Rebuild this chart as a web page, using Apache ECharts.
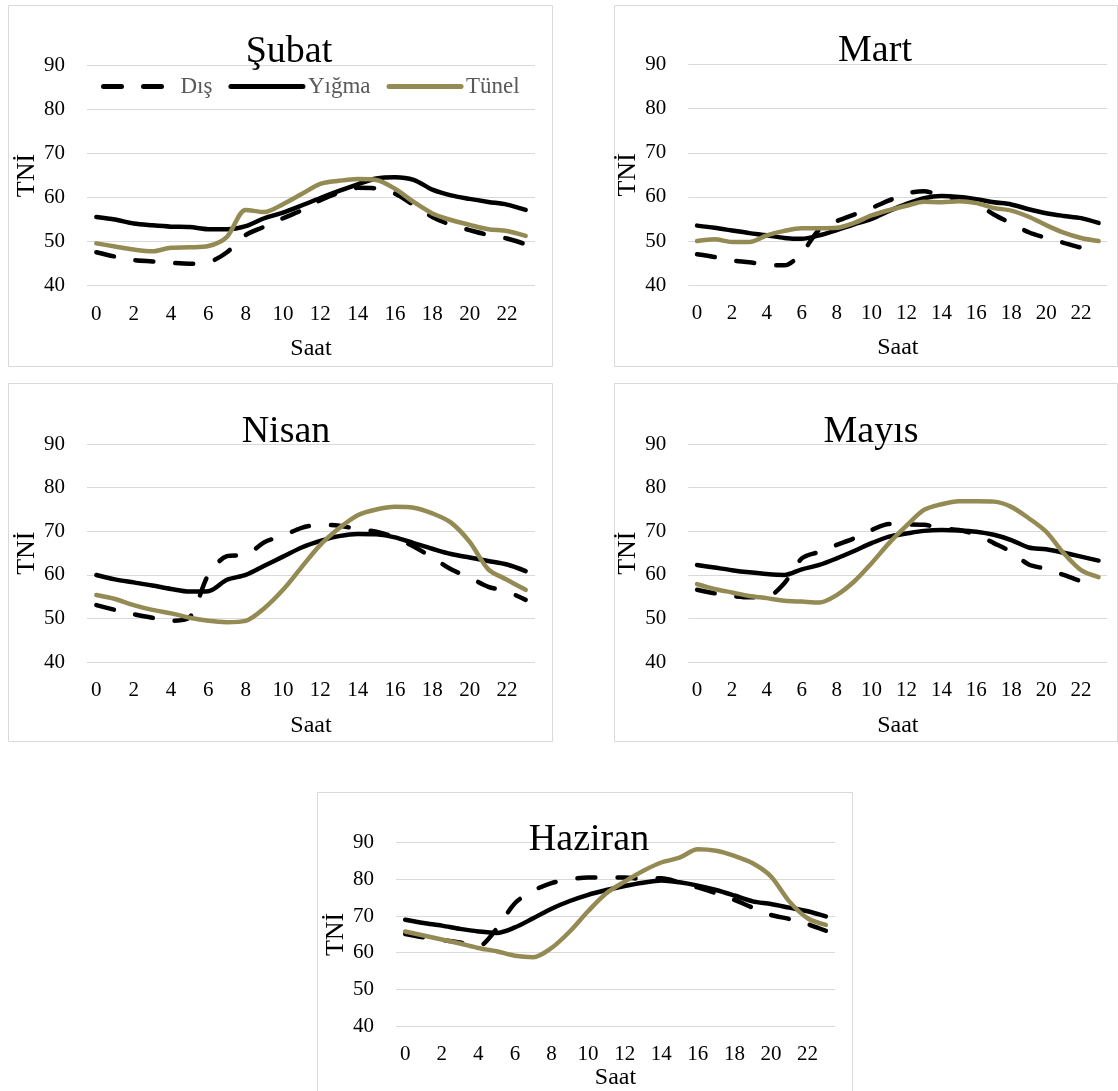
<!DOCTYPE html>
<html><head><meta charset="utf-8">
<script src="https://cdn.jsdelivr.net/npm/echarts@6/dist/echarts.min.js"></script>
<style>html,body{margin:0;padding:0;background:#fff}#c{width:1118px;height:1091px}</style>
</head><body><div id="c"></div>
<script>
// ---- data ----
const hours = ['0','1','2','3','4','5','6','7','8','9','10','11','12','13','14','15','16','17','18','19','20','21','22','23'];
const monthNames = ['Şubat', 'Mart', 'Nisan', 'Mayıs', 'Haziran'];
const seriesNames = ['Dış', 'Yığma', 'Tünel'];
const yTicks = [40, 50, 60, 70, 80, 90];

const subatDis   = [47.6, 46.6, 45.8, 45.5, 45.2, 45.0, 45.3, 47.6, 51.5, 53.4, 55.3, 57.1, 59.4, 61.1, 62.2, 62.1, 60.9, 58.3, 55.6, 53.8, 52.6, 51.5, 50.7, 49.4];
const subatYigma = [55.6, 55.0, 54.1, 53.7, 53.4, 53.3, 52.8, 52.8, 53.5, 55.3, 56.6, 58.2, 59.9, 61.5, 63.0, 64.3, 64.6, 64.0, 61.8, 60.5, 59.7, 59.0, 58.4, 57.2];
const subatTunel = [49.6, 48.9, 48.2, 47.8, 48.6, 48.7, 49.0, 51.1, 57.2, 56.7, 58.5, 60.8, 63.1, 63.8, 64.2, 64.0, 62.0, 59.0, 56.4, 54.9, 53.8, 52.8, 52.4, 51.3];

const martDis   = [47.0, 46.4, 45.6, 45.2, 44.6, 44.5, 47.3, 52.6, 54.5, 56.0, 57.5, 59.2, 60.8, 61.3, 60.2, 59.5, 58.5, 56.0, 54.0, 52.0, 50.7, 49.6, 48.5, 47.7];
const martYigma = [53.5, 53.0, 52.4, 51.8, 51.3, 50.7, 50.5, 51.3, 52.5, 53.8, 55.0, 56.8, 58.4, 59.7, 60.2, 60.0, 59.5, 58.8, 58.3, 57.2, 56.3, 55.7, 55.2, 54.1];
const martTunel = [50.0, 50.4, 49.8, 49.8, 51.3, 52.3, 52.9, 52.9, 53.0, 54.1, 55.8, 57.0, 58.0, 58.9, 58.8, 59.0, 58.6, 57.5, 56.9, 55.5, 53.6, 51.9, 50.7, 50.0];

const nisanDis   = [53.1, 52.0, 51.0, 50.2, 49.5, 50.3, 60.0, 64.3, 64.6, 67.5, 69.0, 70.8, 71.5, 71.3, 70.5, 69.9, 68.6, 66.5, 64.0, 61.3, 59.4, 57.3, 56.2, 54.3];
const nisanYigma = [60.0, 59.0, 58.3, 57.6, 56.8, 56.2, 56.3, 58.9, 60.0, 62.1, 64.2, 66.3, 67.8, 68.9, 69.4, 69.3, 68.6, 67.3, 66.0, 64.8, 64.0, 63.2, 62.4, 60.9];
const nisanTunel = [55.4, 54.5, 53.1, 52.0, 51.2, 50.2, 49.5, 49.2, 49.5, 52.4, 56.6, 61.8, 66.9, 70.7, 73.7, 75.0, 75.6, 75.4, 74.1, 72.0, 67.6, 61.3, 58.9, 56.6];

const mayisDis   = [56.6, 55.8, 55.2, 54.9, 55.0, 58.1, 63.8, 65.3, 66.9, 68.4, 70.3, 71.7, 71.6, 71.5, 70.7, 70.3, 69.2, 67.3, 65.3, 62.4, 61.4, 60.0, 58.6, 57.8];
const mayisYigma = [62.3, 61.7, 61.1, 60.6, 60.2, 60.0, 61.3, 62.3, 63.8, 65.5, 67.3, 68.8, 69.5, 70.1, 70.3, 70.2, 69.9, 69.2, 68.0, 66.3, 65.9, 65.1, 64.2, 63.3];
const mayisTunel = [57.9, 56.8, 56.0, 55.2, 54.7, 54.1, 53.9, 53.7, 55.4, 58.5, 62.7, 67.3, 71.3, 74.9, 76.2, 76.9, 76.9, 76.8, 75.6, 73.0, 69.9, 65.0, 61.1, 59.5];

const haziranDis   = [65.1, 64.2, 63.5, 62.8, 61.8, 66.5, 73.5, 76.9, 79.0, 80.0, 80.5, 80.5, 80.5, 80.1, 80.3, 79.2, 77.8, 76.2, 74.4, 72.3, 70.3, 69.2, 67.8, 66.0];
const haziranYigma = [69.0, 68.1, 67.4, 66.5, 65.8, 65.4, 66.9, 69.4, 72.0, 74.1, 75.8, 77.1, 78.2, 79.1, 79.7, 79.2, 78.3, 77.1, 75.6, 74.0, 73.3, 72.3, 71.3, 69.9];
const haziranTunel = [65.8, 64.7, 63.6, 62.5, 61.3, 60.4, 59.2, 58.8, 61.3, 65.8, 71.3, 76.2, 79.4, 82.3, 84.6, 85.9, 88.2, 87.8, 86.4, 84.4, 80.8, 74.0, 69.4, 67.6];

const monthData = [
  [subatDis, subatYigma, subatTunel],
  [martDis, martYigma, martTunel],
  [nisanDis, nisanYigma, nisanTunel],
  [mayisDis, mayisYigma, mayisTunel],
  [haziranDis, haziranYigma, haziranTunel]
];

// ---- layout (pixels) ----
const panels = [
  {box: [8, 5, 552, 366],    grid: [87, 65.3, 448, 220.4],  titleX: 284, titleY: 47.5, xNameGap: 51},
  {box: [614, 5, 1117, 366], grid: [688.3, 64.5, 419, 220.7], titleX: 870, titleY: 46.5, xNameGap: 51},
  {box: [8, 383, 552, 741],  grid: [87, 444, 448, 218.3],   titleX: 281, titleY: 427, xNameGap: 51},
  {box: [614, 383, 1117, 741], grid: [688.3, 444, 419, 218.3], titleX: 866, titleY: 427, xNameGap: 51},
  {box: [317, 792, 852, 1095], grid: [396, 842.7, 439, 184],  titleX: 584, titleY: 835, xNameGap: 38}
];

const SERIF = '"Liberation Serif","Times New Roman",serif';
const colors = ['#000000', '#000000', '#948A54'];
const TITLE_SIZE = 38;

const grids = [], xAxes = [], yAxes = [], series = [], titles = [], graphics = [];
panels.forEach((p, i) => {
  graphics.push({
    type: 'rect', z: -10, silent: true,
    shape: {x: p.box[0] + 0.5, y: p.box[1] + 0.5, width: p.box[2] - p.box[0], height: p.box[3] - p.box[1]},
    style: {fill: '#fff', stroke: '#d9d9d9', lineWidth: 1}
  });
  grids.push({left: p.grid[0], top: p.grid[1], width: p.grid[2], height: p.grid[3], containLabel: false});
  titles.push({
    text: monthNames[i], left: p.titleX, top: p.titleY - TITLE_SIZE / 2, textAlign: 'center',
    textStyle: {fontFamily: SERIF, fontSize: TITLE_SIZE, fontWeight: 'normal', color: '#000'}
  });
  xAxes.push({
    type: 'category', gridIndex: i, data: hours, boundaryGap: true,
    name: 'Saat', nameLocation: 'middle', nameGap: p.xNameGap,
    nameTextStyle: {fontFamily: SERIF, fontSize: 24, color: '#000'},
    axisLine: {show: false}, axisTick: {show: false},
    axisLabel: {interval: 1, margin: 18, fontFamily: SERIF, fontSize: 21, color: '#000'},
    splitLine: {show: false}
  });
  yAxes.push({
    type: 'value', gridIndex: i, min: yTicks[0], max: yTicks[yTicks.length - 1], interval: 10,
    name: 'TNİ', nameLocation: 'middle', nameGap: 44, nameRotate: 90,
    nameTextStyle: {fontFamily: SERIF, fontSize: 26, color: '#000'},
    axisLine: {show: false}, axisTick: {show: false},
    axisLabel: {margin: 22, fontFamily: SERIF, fontSize: 21, color: '#000'},
    splitLine: {show: true, lineStyle: {color: '#d9d9d9', width: 1}}
  });
  monthData[i].forEach((vals, s) => {
    series.push({
      name: seriesNames[s], type: 'line', xAxisIndex: i, yAxisIndex: i,
      data: vals, smooth: 0.3, symbol: 'none', z: 2 + s,
      lineStyle: {
        color: colors[s], width: 4.5,
        type: s === 0 ? [18, 22] : 'solid',
        cap: 'round', join: 'round'
      },
      itemStyle: {color: colors[s]},
      emphasis: {disabled: true}
    });
  });
});

const chart = echarts.init(document.getElementById('c'), null, {renderer: 'canvas'});
chart.setOption({
  animation: false,
  backgroundColor: '#fff',
  title: titles,
  graphic: graphics,
  legend: {
    data: seriesNames, left: 101, top: 75, padding: 0, itemWidth: 72, itemHeight: 14, itemGap: 16,
    itemStyle: {opacity: 0},
    lineStyle: {width: 5, cap: 'round', type: 'inherit'},
    textStyle: {fontFamily: SERIF, fontSize: 23, color: '#595959'}
  },
  grid: grids, xAxis: xAxes, yAxis: yAxes, series: series
});
</script></body></html>
